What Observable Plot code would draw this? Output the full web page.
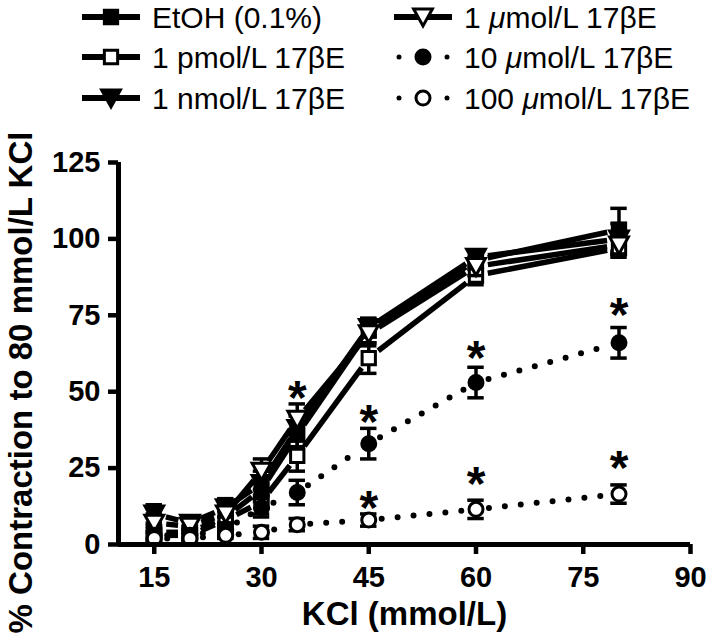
<!DOCTYPE html>
<html>
<head>
<meta charset="utf-8">
<script src="https://cdn.jsdelivr.net/npm/d3@7"></script>
<script src="https://cdn.jsdelivr.net/npm/@observablehq/plot@0.6"></script>
<style>
  body { margin: 0; background: #fff; }
  #wrap { position: relative; width: 709px; height: 638px; font-family: "Liberation Sans", Arial, sans-serif; }
  #legend { position: absolute; left: 0; top: 0; }
</style>
</head>
<body>
<div id="wrap"></div>
<script>
// ---- data ----
const kcl = [15, 20, 25, 30, 35, 45, 60, 80];
const seriesNames = ["EtOH (0.1%)", "1 pmol/L 17βE", "1 nmol/L 17βE", "1 μmol/L 17βE", "10 μmol/L 17βE", "100 μmol/L 17βE"];
const etoh      = [4, 4, 9, 18, 36, 70, 93, 103];
const etohErr   = [2, 2, 3, 4, 4, 4, 3, 7];
const pmol      = [3, 3, 8, 14, 29, 61, 88, 97];
const pmolErr   = [2, 2, 3, 4, 5, 5, 3, 3];
const nmol      = [10, 7, 12, 20, 38, 71, 94, 100];
const nmolErr   = [3, 2, 3, 4, 4, 3, 2, 5];
const umol1     = [7, 6, 10, 24, 41, 69, 91, 98];
const umol1Err  = [3, 2, 3, 4, 5, 4, 3, 3];
const umol10    = [3, 3, 5, 12, 17, 33, 53, 66];
const umol10Err = [1, 1, 2, 3, 4, 5, 5, 5];
const umol100   = [2, 2, 3, 4, 6.5, 8, 11.5, 16.5];
const umol100Err= [1, 1, 1, 2, 2, 2, 3, 3];
const starX = [35, 45, 45, 60, 60, 80, 80];
const starY = [52, 44, 16, 65, 24, 79, 29];
const xTicks = [15, 30, 45, 60, 75, 90];
const yTicks = [0, 25, 50, 75, 100, 125];

const FONT = "'Liberation Sans', Arial, sans-serif";

// ---- build table ----
const downTri = {
  draw(ctx, size) {
    const s = Math.sqrt(size / Math.PI) * 1.25;
    ctx.moveTo(-s, -s * 0.85);
    ctx.lineTo(s, -s * 0.85);
    ctx.lineTo(0, s * 0.95);
    ctx.closePath();
  }
};
const styles = [
  {name: seriesNames[0], v: etoh, e: etohErr, symbol: "square", fill: "black", dotted: false, r: 7.5},
  {name: seriesNames[1], v: pmol, e: pmolErr, symbol: "square", fill: "white", dotted: false, r: 7.5},
  {name: seriesNames[2], v: nmol, e: nmolErr, symbol: downTri, fill: "black", dotted: false, r: 7.5},
  {name: seriesNames[3], v: umol1, e: umol1Err, symbol: downTri, fill: "white", dotted: false, r: 7.5},
  {name: seriesNames[4], v: umol10, e: umol10Err, symbol: "circle", fill: "black", dotted: true, r: 7},
  {name: seriesNames[5], v: umol100, e: umol100Err, symbol: "circle", fill: "white", dotted: true, r: 7}
];
const points = [];
const segs = [];
styles.forEach((s, si) => {
  kcl.forEach((x, i) => {
    points.push({s: si, x, y: s.v[i], lo: s.v[i] - s.e[i], hi: s.v[i] + s.e[i]});
    if (i > 0) segs.push({s: si, x1: kcl[i - 1], y1: s.v[i - 1], x2: x, y2: s.v[i], dotted: s.dotted});
  });
});
const stars = starX.map((x, i) => ({x, y: starY[i]}));

const marks = [];
// connecting lines
marks.push(Plot.arrow(segs.filter(d => !d.dotted), {
  x1: "x1", y1: "y1", x2: "x2", y2: "y2", headLength: 0, insetStart: 12, insetEnd: 12,
  stroke: "black", strokeWidth: 5.5, strokeLinecap: "butt"
}));
marks.push(Plot.arrow(segs.filter(d => d.dotted), {
  x1: "x1", y1: "y1", x2: "x2", y2: "y2", headLength: 0, insetStart: 13, insetEnd: 11,
  stroke: "black", strokeWidth: 6, strokeLinecap: "round", strokeDasharray: "0 16"
}));
// error bars + markers, series by series
styles.forEach((s, si) => {
  const pts = points.filter(d => d.s === si);
  marks.push(Plot.ruleX(pts, {x: "x", y1: "lo", y2: "hi", stroke: "black", strokeWidth: 3.5}));
  marks.push(Plot.ruleY(pts, {y: "hi", x1: d => d.x - 1.15, x2: d => d.x + 1.15, stroke: "black", strokeWidth: 3.5}));
  marks.push(Plot.ruleY(pts, {y: "lo", x1: d => d.x - 1.15, x2: d => d.x + 1.15, stroke: "black", strokeWidth: 3.5}));
  marks.push(Plot.dot(pts, {x: "x", y: "y", symbol: () => s.symbol, r: s.r, fill: s.fill, stroke: "black", strokeWidth: 3}));
});
// asterisks
marks.push(Plot.text(stars, {x: "x", y: "y", text: () => "*", fontSize: 48, fontWeight: "bold", dy: 13}));
// axes
marks.push(Plot.axisX({ticks: xTicks, tickSize: 10, tickPadding: 12, strokeWidth: 4.5, fontSize: 29, fontWeight: "bold", label: null}));
marks.push(Plot.axisY({ticks: yTicks, tickSize: 10, tickPadding: 8, strokeWidth: 4.5, fontSize: 29, fontWeight: "bold", label: null}));
marks.push(Plot.ruleY([0], {stroke: "black", strokeWidth: 5}));
marks.push(Plot.ruleX([10], {stroke: "black", strokeWidth: 5}));
marks.push(Plot.text(["KCl (mmol/L)"], {frameAnchor: "bottom", lineAnchor: "middle", dy: 70, fontSize: 33, fontWeight: "bold"}));
marks.push(Plot.text(["% Contraction to 80 mmol/L KCl"], {frameAnchor: "left", textAnchor: "middle", lineAnchor: "middle", rotate: -90, dx: -97, dy: 29, fontSize: 33, fontWeight: "bold"}));

const chart = Plot.plot({
  width: 709,
  height: 638,
  marginTop: 162,
  marginBottom: 94,
  marginLeft: 118,
  marginRight: 19,
  x: {domain: [10, 90]},
  y: {domain: [0, 125]},
  style: {fontFamily: FONT, color: "black", background: "white", overflow: "visible"},
  marks
});
document.getElementById("wrap").appendChild(chart);

// ---- legend (above plot) ----
const leg = d3.select("#wrap").append("svg").attr("id", "legend").attr("width", 709).attr("height", 130);
const cols = [{x: 82, text: 152}, {x: 394, text: 464}];
const rowsY = [17, 57, 98];
styles.forEach((s, i) => {
  const col = cols[Math.floor(i / 3)];
  const y = rowsY[i % 3];
  const g = leg.append("g");
  const cx = col.x + 29;
  if (!s.dotted) {
    g.append("line").attr("x1", col.x).attr("x2", col.x + 58).attr("y1", y).attr("y2", y)
      .attr("stroke", "black").attr("stroke-width", 6);
  } else {
    [col.x + 5, col.x + 53].forEach(px => g.append("circle").attr("cx", px).attr("cy", y).attr("r", 2.5).attr("fill", "black"));
  }
  const sym = typeof s.symbol === "string" ? ({square: d3.symbolSquare, circle: d3.symbolCircle})[s.symbol] : s.symbol;
  g.append("path").attr("d", d3.symbol(sym, s.r * s.r * Math.PI)())
    .attr("transform", `translate(${cx},${y})`).attr("fill", s.fill).attr("stroke", "black").attr("stroke-width", 3);
  const t = g.append("text").attr("x", col.text).attr("y", y).attr("dy", "0.36em").attr("font-size", 30)
    .attr("font-family", FONT);
  // italic mu as in the reference
  const parts = s.name.split("μ");
  t.append("tspan").text(parts[0]);
  if (parts.length > 1) {
    t.append("tspan").attr("font-style", "italic").text("μ");
    t.append("tspan").text(parts[1]);
  }
});
</script>
</body>
</html>
